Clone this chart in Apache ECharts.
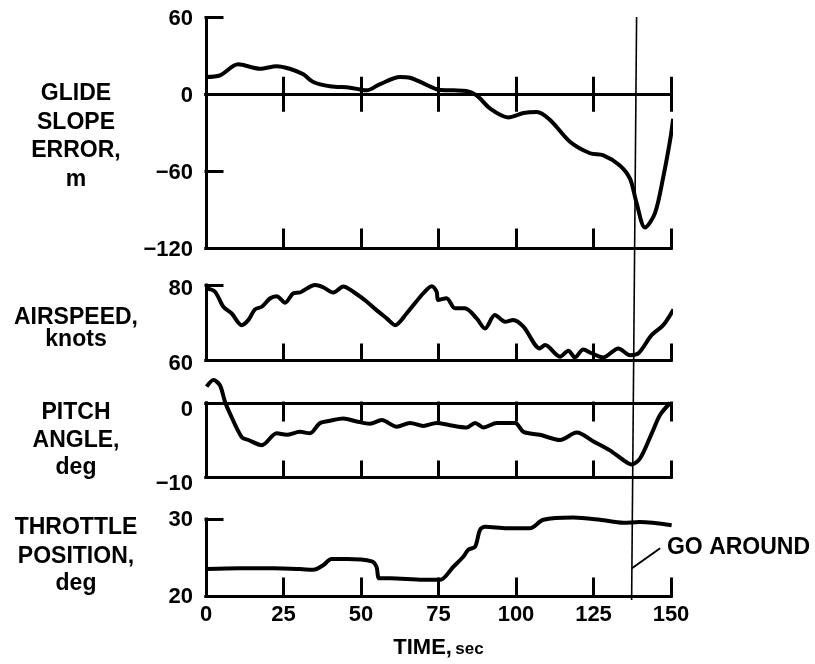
<!DOCTYPE html>
<html><head><meta charset="utf-8">
<script src="https://cdn.jsdelivr.net/npm/echarts@6/dist/echarts.min.js"></script>
<style>html,body{margin:0;padding:0;background:#fff}#c{width:815px;height:664px}</style>
</head><body><div id="c"></div>
<script>
// ---- data ----
const timeTicks = [0, 25, 50, 75, 100, 125, 150];
const goAroundTime = [138.9, 137.3];

const glideT = [0, 4.5, 10.4, 17.4, 22.8, 27, 31.4, 34.6, 40, 46.5, 51.8, 56, 62.6, 65.8, 70, 75, 79.8, 84, 87.3, 91.6, 97.5, 102.4, 106.7, 111, 117.4, 123.9, 128.2, 133.5, 136.8, 138.9, 141.6, 144.8, 147.5, 149.7, 150.7];
const glideV = [13.5, 14.8, 23.4, 20, 22, 20, 15.6, 9.6, 6.3, 5.2, 3.1, 7.8, 13.5, 13, 8.8, 3.6, 3.1, 2.6, -0.8, -11, -18, -14.6, -13.8, -20, -37, -46, -47.6, -55.5, -66, -85, -104, -93, -64.6, -36, -19];
const glideTicks = [60, 0, -60, -120];

const airT = [0.2, 2.9, 5.6, 8.3, 11.5, 13.7, 15.8, 18, 20.6, 22.8, 25.5, 28.2, 30.3, 35.2, 37.8, 41.1, 44.3, 47.5, 51.8, 55, 58.3, 61, 64.7, 70.1, 72.8, 74.4, 74.9, 77.6, 80.3, 83.5, 87.3, 90, 93.2, 96.5, 99.1, 102.4, 107.7, 109.4, 114.2, 116.9, 119, 121.7, 124.4, 128.2, 133, 136.8, 139.5, 143.8, 147.5, 150.8];
const airV = [79.1, 78.2, 74.2, 72.4, 69.3, 70.7, 73.5, 74.2, 76.4, 77, 75.3, 77.8, 78, 80, 79.4, 78, 79.6, 78.2, 75.6, 73.3, 71.1, 69.3, 72.4, 77.8, 79.7, 78.2, 76, 76.5, 73.8, 73.8, 71.1, 68.4, 72, 70.2, 70.7, 68.9, 63.1, 64, 60.9, 62.5, 60.7, 62.8, 61.8, 60.7, 63.1, 61.3, 61.8, 66.7, 69.3, 73.5];
const airTicks = [80, 60];

const pitchT = [0.2, 2.4, 4.5, 6.1, 7.7, 11.5, 13.7, 18, 22.8, 26, 30.3, 33.5, 36.8, 40, 44.3, 48.6, 52.9, 56.7, 61.5, 65.8, 70.1, 74.4, 78.7, 84.1, 86.8, 89.5, 93.8, 99.7, 102.4, 107.7, 114.2, 119.6, 125, 130.3, 134.6, 137.3, 140, 143.8, 146.5, 149.7];
const pitchV = [2.2, 3.1, 2.4, 0.2, -1.4, -4.6, -5, -5.7, -4.1, -4.3, -3.9, -4.1, -2.7, -2.4, -2.1, -2.5, -2.8, -2.3, -3.2, -2.7, -3.1, -2.7, -3, -3.3, -2.7, -3.3, -2.7, -2.7, -3.9, -4.3, -5, -4, -5.2, -6.4, -7.7, -8.3, -7.5, -4.1, -1.6, 0];
const pitchTicks = [0, -10];

const throttleT = [0.2, 11, 21.7, 30.3, 34.6, 37.8, 40.5, 45.4, 53.5, 55, 55.9, 59.4, 70.1, 75.5, 79.8, 83, 84.6, 86.8, 88.4, 90, 97, 104.5, 108.8, 118.5, 127.1, 134.6, 140, 150.2];
const throttleV = [23.5, 23.6, 23.6, 23.5, 23.4, 24, 24.8, 24.8, 24.5, 23.8, 22.3, 22.3, 22.1, 22.1, 23.8, 25.1, 26, 26.4, 28.6, 29, 28.8, 28.8, 29.9, 30.2, 29.9, 29.5, 29.6, 29.2];
const throttleTicks = [30, 20];

// ---- chart ----
const FONT = "'Liberation Sans', Arial, Helvetica, sans-serif";
const pair = (t, v) => t.map((x, i) => [x, v[i]]);
const fmt = v => (v < 0 ? '\u2212' + Math.abs(v) : String(v));
const L = 206, W = 465;
const blk = { color: '#000', width: 3, cap: 'square' };
const tMin = timeTicks[0], tMax = timeTicks[timeTicks.length - 1], tInt = timeTicks[1] - timeTicks[0];

function xAx(grid, pos, tickLen, showLabel) {
  return {
    type: 'value', gridIndex: grid, position: pos, min: tMin, max: tMax, interval: tInt,
    axisLine: { show: true, onZero: false, lineStyle: blk },
    axisTick: { show: true, inside: true, length: tickLen, lineStyle: blk },
    axisLabel: { show: !!showLabel, margin: 8, color: '#000', fontFamily: FONT, fontWeight: 'bold', fontSize: 22 },
    splitLine: { show: false }
  };
}
function yAx(grid, ticks, shift) {
  const mn = Math.min(...ticks), mx = Math.max(...ticks);
  const iv = Math.abs(ticks[0] - ticks[1]);
  return {
    type: 'value', gridIndex: grid, min: mn, max: mx, interval: iv,
    axisLine: { show: true, onZero: false, lineStyle: blk },
    axisTick: { show: true, inside: true, length: 16, lineStyle: blk },
    axisLabel: { show: true, margin: 13, color: '#000', fontFamily: FONT, fontWeight: 'bold', fontSize: 22,
      formatter: v => '{n|' + fmt(v) + '}',
      rich: { n: { color: '#000', fontFamily: FONT, fontWeight: 'bold', fontSize: 22, padding: [2 * shift, 0, 0, 0] } } },
    splitLine: { show: false }
  };
}
const hiddenY = g => ({ type: 'value', gridIndex: g, min: 0, max: 1, show: false });
function mkLine(xi, yi, data) {
  return {
    type: 'line', xAxisIndex: xi, yAxisIndex: yi, data: data, smooth: 0.3, symbol: 'none', showSymbol: false, clip: false,
    lineStyle: { color: '#000', width: 4 }
  };
}

const chart = echarts.init(document.getElementById('c'));
chart.setOption({
  animation: false,
  backgroundColor: '#fff',
  grid: [
    { left: L, width: W, top: 17.5, height: 230.5 },
    { left: L, width: W, top: 17.5, height: 76.8 },
    { left: L, width: W, top: 94.3, height: 60 },
    { left: L, width: W, top: 285, height: 75 },
    { left: L, width: W, top: 403, height: 74 },
    { left: L, width: W, top: 519, height: 77 },
    { left: L, width: W, top: 17, height: 583 }
  ],
  xAxis: [xAx(0, 'bottom', 18), xAx(1, 'bottom', 16), xAx(2, 'top', 16), xAx(3, 'bottom', 15), xAx(4, 'bottom', 15), xAx(4, 'top', 17), xAx(5, 'bottom', 17, true),
    { type: 'value', gridIndex: 6, min: tMin, max: tMax, show: false }],
  yAxis: [yAx(0, glideTicks, 1.5), hiddenY(1), hiddenY(2), yAx(3, airTicks, 4), yAx(4, pitchTicks, 7), yAx(5, throttleTicks, 1), hiddenY(6)],
  series: []
});

try {
  chart.setOption({ series: [
    mkLine(0, 0, pair(glideT, glideV)),
    mkLine(3, 3, pair(airT, airV)),
    mkLine(4, 4, pair(pitchT, pitchV)),
    mkLine(6, 5, pair(throttleT, throttleV)),
    { type: 'line', xAxisIndex: 7, yAxisIndex: 6, data: [[goAroundTime[0], 1], [goAroundTime[1], 0]], symbol: 'none', showSymbol: false,
      lineStyle: { color: '#000', width: 1.6 } }
  ] });
} catch (e) { console.error('series', e.stack); }

try {
  chart.setOption({ xAxis: [{}, {}, {}, {}, {}, {}, {
    name: '{a|TIME,} {b|sec}', nameLocation: 'middle', nameGap: 41,
    nameTextStyle: { color: '#000', fontFamily: FONT, fontWeight: 'bold',
      rich: { a: { fontSize: 22, fontWeight: 'bold', fontFamily: FONT, color: '#000' },
              b: { fontSize: 17, fontWeight: 'bold', fontFamily: FONT, color: '#000', padding: [2, 0, 0, 0] } } }
  }, {}] });
} catch (e) { console.error('name', e.stack); }

const labelBlocks = [
  { lines: ['GLIDE', 'SLOPE', 'ERROR,', 'm'], ys: [94, 122.5, 151, 179.5] },
  { lines: ['AIRSPEED,', 'knots'], ys: [318, 339.5] },
  { lines: ['PITCH', 'ANGLE,', 'deg'], ys: [413, 441, 468] },
  { lines: ['THROTTLE', 'POSITION,', 'deg'], ys: [528, 556.5, 584] }
];
const gfx = [];
labelBlocks.forEach(b => b.lines.forEach((t, i) => gfx.push({
  type: 'text', x: 76, y: b.ys[i], silent: true,
  style: { text: t, fill: '#000', font: 'bold 23px ' + FONT, textAlign: 'center', textVerticalAlign: 'middle' }
})));
try {
  const p0 = chart.convertToPixel({ xAxisIndex: 6, yAxisIndex: 5 }, [137.4, 23.6]);
  const p1 = chart.convertToPixel({ xAxisIndex: 6, yAxisIndex: 5 }, [146.5, 26.2]);
  const pt = chart.convertToPixel({ xAxisIndex: 6, yAxisIndex: 5 }, [148.7, 26.3]);
  gfx.push({ type: 'line', silent: true, shape: { x1: p0[0], y1: p0[1], x2: p1[0], y2: p1[1] }, style: { stroke: '#000', lineWidth: 2 } });
  gfx.push({ type: 'text', silent: true, x: pt[0], y: pt[1],
    style: { text: 'GO AROUND', fill: '#000', font: 'bold 23px ' + FONT, textAlign: 'left', textVerticalAlign: 'middle' } });
} catch (e) { console.error('convert', e.stack); }
try { chart.setOption({ graphic: gfx }); } catch (e) { console.error('graphic', e.stack); }
</script></body></html>
